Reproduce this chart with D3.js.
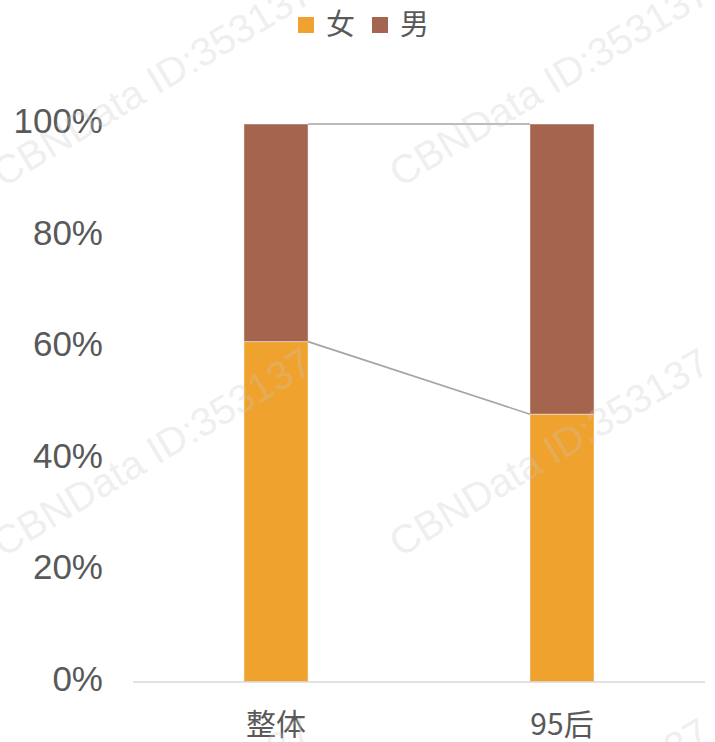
<!DOCTYPE html>
<html>
<head>
<meta charset="utf-8">
<script src="https://cdn.jsdelivr.net/npm/d3@7"></script>
<style>
html,body{margin:0;padding:0;background:#fff;}
svg{display:block;}
</style>
</head>
<body>
<svg id="chart" width="715" height="742"></svg>
<script>
const categories = ["整体", "95后"];
const seriesNames = ["女", "男"];
const femaleValues = [0.61, 0.48];
const maleValues = [0.39, 0.52];
const yTicks = [0, 0.2, 0.4, 0.6, 0.8, 1.0];
const colors = ["#F0A22E", "#A5644E"];
const watermarkText = "CBNData ID:353137";

(function () {
const svg = d3.select("#chart");
const mLeft = 133, mRight = 705, mTop = 124, mBottom = 682;

const x = d3.scaleBand().domain(categories).range([mLeft, mRight]).paddingInner(0.776).paddingOuter(0.388);
const y = d3.scaleLinear().domain([0, 1]).range([mBottom, mTop]);

const data = categories.map((c, i) => ({cat: c, vals: [femaleValues[i], maleValues[i]]}));
const stacked = d3.stack().keys([0, 1]).value((d, k) => d.vals[k])(data);

// y labels
svg.append("g").selectAll("text").data(yTicks).join("text")
  .attr("x", 103).attr("y", d => y(d) + 9)
  .attr("text-anchor", "end")
  .attr("font-family", "Liberation Sans, Arial, sans-serif")
  .attr("font-size", 35)
  .attr("fill", "#595959")
  .text(d => d3.format(".0%")(d));

// bars
svg.append("g").selectAll("g").data(stacked).join("g")
  .attr("fill", (d, i) => colors[i])
  .selectAll("rect").data(d => d).join("rect")
  .attr("x", d => x(d.data.cat))
  .attr("width", x.bandwidth())
  .attr("y", d => y(d[1]))
  .attr("height", d => y(d[0]) - y(d[1]))
  .attr("stroke", "#ffffff").attr("stroke-opacity", 0.45).attr("stroke-width", 1);

// series lines
const lineG = svg.append("g");
stacked.forEach(s => {
  lineG.append("line")
    .attr("x1", x(categories[0]) + x.bandwidth())
    .attr("y1", y(s[0][1]))
    .attr("x2", x(categories[1]))
    .attr("y2", y(s[1][1]))
    .attr("stroke", "#A5A5A5").attr("stroke-width", 1.6);
});

// axis line
svg.append("line").attr("x1", mLeft).attr("x2", mRight).attr("y1", mBottom).attr("y2", mBottom)
  .attr("stroke", "#D9D9D9").attr("stroke-width", 1.5);

// x labels
svg.append("g").selectAll("text").data(categories).join("text")
  .attr("x", d => x(d) + x.bandwidth() / 2)
  .attr("y", 735)
  .attr("text-anchor", "middle")
  .attr("font-family", "Noto Sans CJK SC, sans-serif")
  .attr("font-size", 30)
  .attr("fill", "#595959")
  .text(d => d);

// legend
const legX = [298, 372];
const leg = svg.append("g").selectAll("g").data(seriesNames).join("g")
  .attr("transform", (d, i) => `translate(${legX[i]},17)`);
leg.append("rect").attr("width", 16).attr("height", 16).attr("fill", (d, i) => colors[i]);
leg.append("text").attr("x", 28).attr("y", 18)
  .attr("font-family", "Noto Sans CJK SC, sans-serif")
  .attr("font-size", 29)
  .attr("fill", "#595959")
  .text(d => d);

// watermark (semi-transparent overlay)
const wmPos = [[3,188],[400,188],[3,558],[400,558],[3,928],[400,928]];
svg.append("g").attr("pointer-events", "none").selectAll("text").data(wmPos).join("text")
  .attr("transform", d => `translate(${d[0]},${d[1]}) rotate(-31)`)
  .attr("font-family", "Liberation Sans, Arial, sans-serif")
  .attr("font-size", 40)
  .attr("fill", "#c8c8c8")
  .attr("fill-opacity", 0.3)
  .text(watermarkText);
})();
</script>
</body>
</html>
